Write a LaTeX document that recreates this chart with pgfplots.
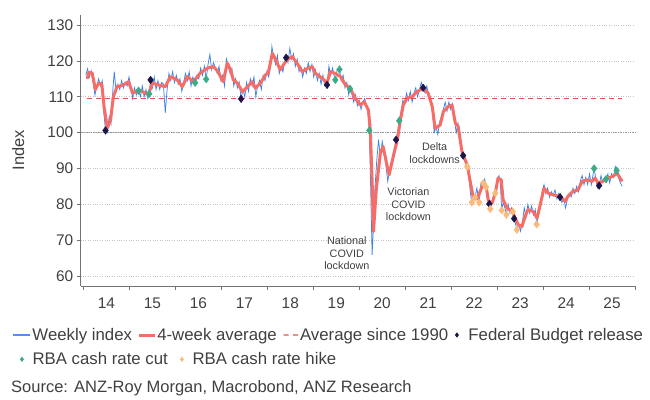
\documentclass[border=0pt]{standalone}
\usepackage{pgfplots}
\pgfplotsset{compat=1.18}
\usepackage{fontspec}
\setmainfont{Liberation Sans}
\definecolor{weekly}{RGB}{60,130,230}
\definecolor{weeklyleg}{RGB}{80,145,235}
\definecolor{avgfour}{RGB}{246,108,102}
\definecolor{avgninety}{RGB}{222,85,75}
\definecolor{budget}{RGB}{28,22,72}
\definecolor{cut}{RGB}{58,172,136}
\definecolor{hike}{RGB}{250,186,122}
\definecolor{txt}{RGB}{64,64,64}
\pgfplotsset{
  legweekly/.style={legend image code/.code={\fill[fill=weeklyleg, draw=none] (0pt,-0.55pt) rectangle (17pt,0.55pt);}},
  legavg/.style={legend image code/.code={\fill[fill=avgfour, draw=none] (0pt,-1.5pt) rectangle (16.5pt,1.5pt);}},
  legninety/.style={legend image code/.code={\fill[fill=avgninety, draw=none] (0pt,-0.55pt) rectangle (5pt,0.55pt) (9.5pt,-0.55pt) rectangle (14.5pt,0.55pt);}},
  legdiamond/.style={legend image code/.code={\fill[fill=#1, draw=none] (2pt,2.7pt) -- (4pt,0pt) -- (2pt,-2.7pt) -- (0pt,0pt) -- cycle;}},
}
\begin{document}
\begin{tikzpicture}
\useasboundingbox (-80.7pt,-113pt) rectangle (569.3pt,286pt);
\begin{axis}[
  scale only axis, width=554.3pt, height=271pt,
  xmin=2013.94, xmax=2026, ymin=57.2, ymax=132.8,
  axis x line*=bottom, axis y line*=left,
  axis line style={draw=gray!90!black, line width=0.6pt},
  xtick={2014,2015,2016,2017,2018,2019,2020,2021,2022,2023,2024,2025,2026},
  xticklabels={14,15,16,17,18,19,20,21,22,23,24,25,{}},
  xticklabel style={xshift=23pt, yshift=-4pt},
  ytick={60,70,80,90,100,110,120,130},
  tick align=outside, major tick length=4pt,
  tick style={draw=gray!90!black, line width=0.6pt},
  ymajorgrids, grid style={dotted, gray!45, line width=0.6pt},
  /pgf/number format/assume math mode=true,
  tick label style={text=txt, font=\fontsize{15.4}{18}\selectfont},
  clip=false,
  legend columns=4,
  legend style={draw=none, fill=none, at={(-0.1216,-0.1808)}, anchor=west,
    font=\fontsize{16.8}{19}\selectfont, text=txt, inner sep=0pt,
    /tikz/every even column/.append style={column sep=6.7pt},
    /tikz/every odd column/.append style={column sep=2pt},
    nodes={inner sep=0pt}},
  legend cell align=left,
]
\addplot[densely dotted, gray!80, line width=0.7pt, forget plot] coordinates {(2013.94,100) (2026,100)};
\addplot[weekly, line width=0.75pt, legweekly] coordinates {
(2014.05,116.0)(2014.09,117.8)(2014.13,115.5)(2014.17,117.2)(2014.21,114.0)(2014.25,110.5)(2014.29,112.8)(2014.33,115.0)(2014.37,113.0)(2014.41,114.5)(2014.44,106.0)(2014.48,100.6)(2014.52,100.0)(2014.56,104.5)(2014.60,102.5)(2014.64,112.0)(2014.67,117.0)(2014.71,111.5)(2014.75,113.5)(2014.79,112.0)(2014.83,114.5)(2014.87,112.5)(2014.91,114.0)(2014.95,113.0)(2014.99,115.5)
(2015.03,113.0)(2015.07,109.5)(2015.11,112.5)(2015.15,110.5)(2015.20,111.7)(2015.24,110.0)(2015.28,113.0)(2015.32,110.0)(2015.36,112.0)(2015.40,109.5)(2015.43,110.8)(2015.46,114.7)(2015.50,112.5)(2015.54,115.5)(2015.58,112.0)(2015.62,114.5)(2015.66,112.0)(2015.70,114.0)(2015.74,113.5)(2015.78,105.5)(2015.82,112.0)(2015.86,116.5)(2015.90,114.5)(2015.94,117.0)(2015.98,114.0)
(2016.02,116.0)(2016.06,113.5)(2016.10,115.0)(2016.14,111.5)(2016.18,114.0)(2016.22,116.5)(2016.26,114.5)(2016.30,117.0)(2016.34,113.0)(2016.38,115.5)(2016.43,113.9)(2016.47,116.0)(2016.51,115.0)(2016.55,118.0)(2016.59,116.0)(2016.63,118.5)(2016.67,114.9)(2016.71,119.0)(2016.75,121.8)(2016.79,117.5)(2016.83,119.5)(2016.87,118.0)(2016.91,116.5)(2016.95,118.5)(2016.99,114.5)
(2017.03,116.0)(2017.07,113.0)(2017.11,120.5)(2017.15,118.5)(2017.19,116.5)(2017.23,118.0)(2017.27,113.0)(2017.31,115.0)(2017.35,112.5)(2017.39,114.0)(2017.43,109.4)(2017.47,112.0)(2017.51,110.0)(2017.55,114.0)(2017.59,111.5)(2017.63,115.0)(2017.67,113.0)(2017.71,115.5)(2017.75,110.0)(2017.79,113.0)(2017.83,114.5)(2017.87,112.0)(2017.91,116.0)(2017.95,114.5)(2017.99,117.0)
(2018.03,115.5)(2018.07,118.5)(2018.10,124.0)(2018.14,121.0)(2018.18,119.0)(2018.22,121.5)(2018.26,116.5)(2018.30,118.5)(2018.34,117.0)(2018.38,120.0)(2018.41,120.9)(2018.45,119.5)(2018.49,123.5)(2018.53,120.5)(2018.57,122.0)(2018.61,118.5)(2018.65,120.5)(2018.69,117.0)(2018.73,118.5)(2018.77,115.5)(2018.81,118.0)(2018.85,116.5)(2018.89,119.5)(2018.93,117.0)(2018.97,119.0)
(2019.01,115.5)(2019.05,117.5)(2019.09,114.5)(2019.13,116.5)(2019.17,113.5)(2019.21,116.0)(2019.25,113.0)(2019.30,113.3)(2019.34,118.5)(2019.38,116.0)(2019.42,118.0)(2019.45,116.0)(2019.48,114.7)(2019.52,117.5)(2019.57,117.6)(2019.61,114.5)(2019.65,116.0)(2019.69,112.5)(2019.73,114.0)(2019.77,110.5)(2019.80,112.2)(2019.84,111.0)(2019.88,108.5)(2019.92,110.5)(2019.96,107.5)
(2020.00,109.0)(2020.04,106.5)(2020.08,108.5)(2020.12,109.5)(2020.16,107.0)(2020.19,106.0)(2020.22,100.6)(2020.25,84.0)(2020.28,65.9)(2020.31,74.0)(2020.34,84.0)(2020.38,92.0)(2020.42,98.0)(2020.46,93.0)(2020.50,97.5)(2020.54,94.5)(2020.58,91.0)(2020.62,86.4)(2020.66,89.5)(2020.70,91.5)(2020.74,94.0)(2020.80,98.0)(2020.84,100.5)(2020.87,103.3)(2020.91,106.0)(2020.95,109.0)(2020.99,108.0)
(2021.03,111.0)(2021.07,109.0)(2021.11,111.5)(2021.15,108.5)(2021.19,111.0)(2021.23,112.5)(2021.27,110.0)(2021.31,112.0)(2021.35,114.0)(2021.39,112.5)(2021.43,111.0)(2021.47,113.0)(2021.51,110.5)(2021.55,109.0)(2021.59,106.5)(2021.63,100.0)(2021.67,101.5)(2021.71,99.5)(2021.75,103.0)(2021.79,104.5)(2021.83,106.5)(2021.87,108.5)(2021.91,106.0)(2021.95,108.5)(2021.99,106.5)
(2022.03,108.0)(2022.07,103.5)(2022.11,100.0)(2022.15,102.5)(2022.19,98.0)(2022.22,95.5)(2022.26,93.6)(2022.30,92.0)(2022.35,90.5)(2022.39,87.0)(2022.42,83.0)(2022.45,80.5)(2022.49,81.5)(2022.52,81.9)(2022.56,84.5)(2022.61,80.5)(2022.65,86.0)(2022.70,85.9)(2022.73,87.0)(2022.76,84.8)(2022.80,82.0)(2022.83,80.1)(2022.85,78.7)(2022.89,80.5)(2022.93,82.5)(2022.96,83.1)
(2023.00,86.5)(2023.04,88.0)(2023.07,86.0)(2023.10,78.3)(2023.13,80.5)(2023.17,79.0)(2023.20,77.1)(2023.24,80.0)(2023.28,77.5)(2023.31,79.0)(2023.34,78.0)(2023.37,76.0)(2023.41,74.0)(2023.43,72.9)(2023.47,74.5)(2023.51,72.5)(2023.55,75.0)(2023.59,79.0)(2023.63,76.5)(2023.67,80.0)(2023.71,77.5)(2023.75,79.5)(2023.79,77.0)(2023.83,78.5)(2023.86,74.4)(2023.90,77.0)(2023.94,80.0)(2023.98,83.5)
(2024.02,85.5)(2024.06,83.0)(2024.10,84.5)(2024.14,82.0)(2024.18,83.5)(2024.22,82.5)(2024.26,84.0)(2024.30,81.5)(2024.34,83.0)(2024.37,82.0)(2024.41,80.5)(2024.45,81.5)(2024.49,79.0)(2024.53,81.5)(2024.57,83.0)(2024.61,82.0)(2024.65,84.5)(2024.69,83.0)(2024.73,85.0)(2024.77,83.5)(2024.81,86.5)(2024.85,88.0)(2024.89,85.5)(2024.93,87.5)(2024.97,85.5)
(2025.01,88.5)(2025.05,85.5)(2025.11,90.0)(2025.15,87.0)(2025.18,84.5)(2025.22,85.2)(2025.26,88.0)(2025.30,86.0)(2025.34,87.5)(2025.37,87.0)(2025.41,88.5)(2025.45,86.0)(2025.49,88.5)(2025.53,87.5)(2025.57,90.5)(2025.60,89.4)(2025.64,87.5)(2025.68,86.0)(2025.72,85.0)
};
\addlegendentry{Weekly index}
\addplot[avgfour, line width=3pt, line join=round, legavg] coordinates {
(2014.08,115.0)(2014.12,116.8)(2014.19,116.6)(2014.26,112.0)(2014.33,113.8)(2014.40,113.5)(2014.45,107.0)(2014.52,101.3)(2014.59,103.5)(2014.65,110.0)(2014.73,112.8)(2014.80,113.0)(2014.87,113.3)(2014.98,114.2)
(2015.07,111.0)(2015.20,111.9)(2015.35,111.0)(2015.41,110.5)(2015.50,113.8)(2015.63,113.3)(2015.78,112.8)(2015.89,115.6)
(2016.04,114.7)(2016.15,112.8)(2016.26,115.6)(2016.39,114.2)(2016.54,116.6)(2016.70,118.0)(2016.83,118.4)(2016.93,117.0)(2016.98,115.6)
(2017.04,114.2)(2017.13,119.4)(2017.20,117.5)(2017.26,114.7)(2017.35,113.8)(2017.46,111.4)(2017.57,112.8)(2017.67,114.2)(2017.74,112.4)(2017.85,113.8)(2017.96,116.1)
(2018.02,116.6)(2018.11,122.1)(2018.17,120.7)(2018.28,117.5)(2018.35,118.9)(2018.43,120.3)(2018.54,121.2)(2018.65,119.3)(2018.76,117.0)(2018.87,117.9)(2018.98,118.4)
(2019.04,116.6)(2019.20,115.1)(2019.30,113.8)(2019.37,117.0)(2019.48,116.5)(2019.59,115.6)(2019.70,113.3)(2019.80,112.4)(2019.91,109.6)
(2020.02,107.7)(2020.11,108.6)(2020.20,106.3)(2020.24,100.8)(2020.28,86.8)(2020.31,72.4)(2020.37,84.0)(2020.46,94.3)(2020.52,96.1)(2020.61,90.5)(2020.65,88.2)(2020.74,93.3)(2020.83,98.0)(2020.89,103.1)(2020.96,107.7)
(2021.04,109.6)(2021.15,110.0)(2021.26,111.4)(2021.39,112.4)(2021.50,111.0)(2021.59,107.2)(2021.65,101.2)(2021.76,102.1)(2021.83,105.8)(2021.93,107.2)
(2022.02,107.7)(2022.09,102.7)(2022.15,101.8)(2022.24,94.3)(2022.35,91.0)(2022.42,86.0)(2022.48,82.0)(2022.56,81.5)(2022.63,83.5)(2022.70,86.0)(2022.76,85.0)(2022.81,81.0)(2022.89,80.3)(2022.96,83.1)
(2023.02,87.3)(2023.09,86.8)(2023.13,81.3)(2023.22,78.9)(2023.33,78.0)(2023.39,76.2)(2023.46,74.3)(2023.54,73.8)(2023.61,76.6)(2023.67,78.5)(2023.78,78.0)(2023.87,76.2)(2023.93,79.4)
(2024.02,84.5)(2024.11,83.1)(2024.22,82.6)(2024.37,82.2)(2024.48,80.8)(2024.54,82.2)(2024.65,83.6)(2024.76,84.0)(2024.85,86.4)(2024.96,86.8)
(2025.07,86.4)(2025.13,87.3)(2025.20,85.9)(2025.30,86.4)(2025.41,87.3)(2025.52,87.8)(2025.61,88.7)(2025.72,86.4)
};
\addlegendentry{4-week average}
\addplot[avgninety, line width=1.1pt, dash pattern=on 5pt off 4pt, legninety] coordinates {(2014.08,109.6) (2025.72,109.6)};
\addlegendentry{Average since 1990\hspace{9pt}}
\addplot[only marks, mark=diamond*, mark size=3.8pt, draw=budget, fill=budget, legdiamond=budget] coordinates {
(2014.48,100.6)(2015.46,114.7)(2017.43,109.4)(2018.41,120.9)(2019.30,113.3)(2020.80,98.0)(2021.39,112.5)(2022.26,93.6)(2022.83,80.1)(2023.37,76.0)(2024.37,82.0)(2025.22,85.2)};
\addlegendentry{\hspace{7.5pt}Federal Budget release}
\addplot[only marks, mark=diamond*, mark size=3.8pt, draw=cut, fill=cut, forget plot] coordinates {
(2015.20,111.7)(2015.43,110.8)(2016.43,113.9)(2016.67,114.9)(2019.48,114.7)(2019.57,117.6)(2019.80,112.2)(2020.22,100.6)(2020.87,103.3)(2025.11,90.0)(2025.37,87.0)(2025.60,89.4)};
\addplot[only marks, mark=diamond*, mark size=3.8pt, draw=hike, fill=hike, forget plot] coordinates {
(2022.35,90.5)(2022.45,80.5)(2022.52,81.9)(2022.61,80.5)(2022.70,85.9)(2022.76,84.8)(2022.85,78.7)(2022.96,83.1)(2023.10,78.3)(2023.20,77.1)(2023.34,78.0)(2023.43,72.9)(2023.86,74.4)};
\node[align=center, font=\fontsize{10.8}{12.4}\selectfont, text=txt] at (axis cs:2019.73,66.3) {National\\COVID\\lockdown};
\node[align=center, font=\fontsize{10.8}{12.4}\selectfont, text=txt] at (axis cs:2021.07,80.0) {Victorian\\COVID\\lockdown};
\node[align=center, font=\fontsize{10.8}{12.4}\selectfont, text=txt] at (axis cs:2021.64,94.3) {Delta\\lockdowns};
\node[rotate=90, font=\fontsize{16.5}{19}\selectfont, text=txt] at (axis description cs:-0.1125,0.502) {Index};
\node[anchor=west, inner sep=0pt, font=\fontsize{16.5}{19}\selectfont, text=txt] at (axis description cs:-0.1257,-0.3775) {Source: ANZ-Roy Morgan, Macrobond, ANZ Research};
\end{axis}
\begin{axis}[
  scale only axis, width=554.3pt, height=271pt, hide axis,
  xmin=0, xmax=1, ymin=0, ymax=1,
  legend columns=2,
  legend style={draw=none, fill=none, at={(-0.110,-0.2705)}, anchor=west,
    font=\fontsize{16.8}{19}\selectfont, text=txt, inner sep=0pt,
    /tikz/every even column/.append style={column sep=12pt},
    /tikz/every odd column/.append style={column sep=8.6pt},
    nodes={inner sep=0pt}},
  legend cell align=left,
]
\addlegendimage{legdiamond=cut}
\addlegendentry{RBA cash rate cut}
\addlegendimage{legdiamond=hike}
\addlegendentry{RBA cash rate hike}
\end{axis}
\end{tikzpicture}
\end{document}
